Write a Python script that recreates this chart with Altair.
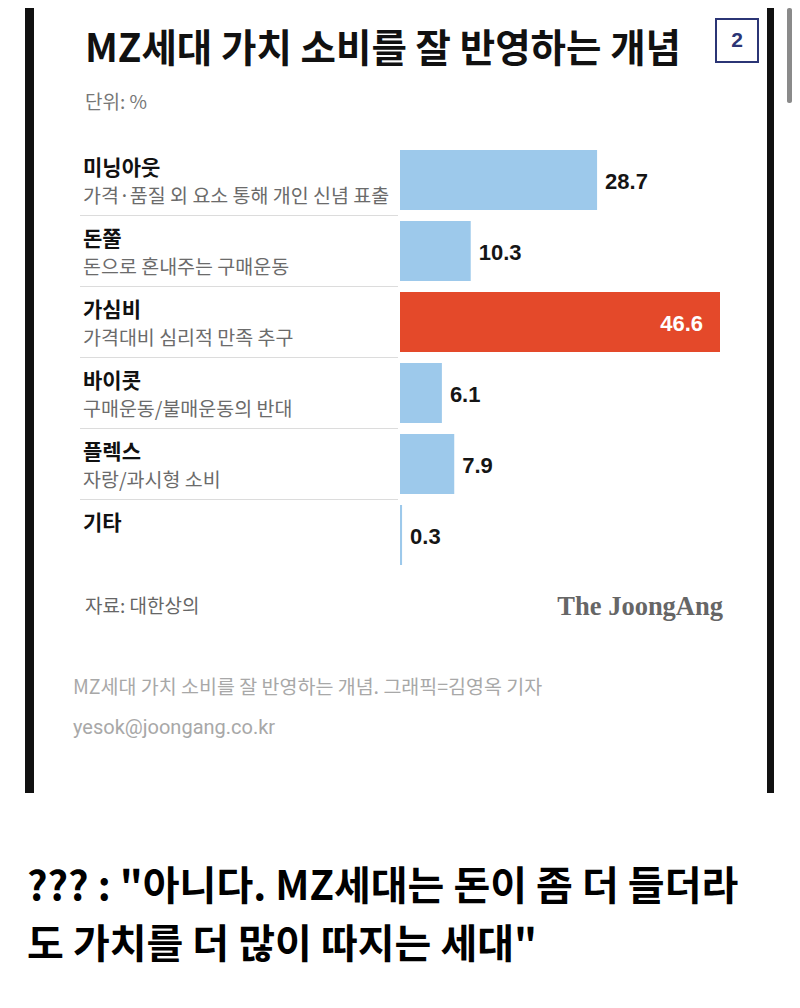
import altair as alt
import pandas as pd

# ---- data ----
names = ["미닝아웃", "돈쭐", "가심비", "바이콧", "플렉스", "기타"]
descs = ["가격·품질 외 요소 통해 개인 신념 표출", "돈으로 혼내주는 구매운동",
         "가격대비 심리적 만족 추구", "구매운동/불매운동의 반대", "자랑/과시형 소비", ""]
values = [28.7, 10.3, 46.6, 6.1, 7.9, 0.3]
kinds = ["base", "base", "hl", "base", "base", "base"]

title_text = "MZ세대 가치 소비를 잘 반영하는 개념"
unit_text = "단위: %"
source_text = "자료: 대한상의"
brand_text = "The JoongAng"
caption_text = "MZ세대 가치 소비를 잘 반영하는 개념. 그래픽=김영옥 기자"
email_text = "yesok@joongang.co.kr"
page_badge = "2"
comment_lines = ["??? : \"아니다. MZ세대는 돈이 좀 더 들더라", "도 가치를 더 많이 따지는 세대\""]

df = pd.DataFrame({"name": names, "desc": descs, "value": values, "kind": kinds})
df["label"] = [f"{v:.1f}" for v in values]
df["sep"] = [n != names[-1] for n in names]

KR = "Noto Sans CJK KR"
NUM = "Liberation Sans"

y_scale = alt.Scale(range=[142, 557], paddingInner=0.155, paddingOuter=0)
x_scale = alt.Scale(domain=[0, 46.6], range=[392, 712])

def Y(**kw):
    return alt.Y("name:N", sort=names, axis=None, scale=y_scale, **kw)

base = alt.Chart(df)

bars = base.mark_bar().encode(
    x=alt.X("value:Q", scale=x_scale, axis=None),
    y=Y(),
    color=alt.Color("kind:N", scale=alt.Scale(domain=["base", "hl"], range=["#9dc9eb", "#e4492a"]), legend=None),
)

seps = base.transform_filter("datum.sep").mark_rule(color="#dcdcdc", strokeWidth=1, yOffset=5.5).encode(
    y=Y(bandPosition=1),
    x=alt.value(72),
    x2=alt.value(390),
)

name_lbl = base.mark_text(align="left", baseline="middle", dy=-11, font=KR, fontSize=21,
                          fontWeight="bold", color="#111111").encode(
    x=alt.value(75), y=Y(), text="name:N")

desc_lbl = base.mark_text(align="left", baseline="middle", dy=17, font=KR, fontSize=19.5,
                          color="#6b6b6b").encode(
    x=alt.value(75), y=Y(), text="desc:N")

val_lbl = base.transform_filter("datum.kind == 'base'").mark_text(
    align="left", baseline="middle", dx=8, dy=2, font=NUM, fontSize=22, fontWeight="bold",
    color="#151515").encode(x=alt.X("value:Q", scale=x_scale, axis=None), y=Y(), text="label:N")

val_hl = base.transform_filter("datum.kind == 'hl'").mark_text(
    align="right", baseline="middle", dx=-17, dy=2, font=NUM, fontSize=22, fontWeight="bold",
    color="#ffffff").encode(x=alt.X("value:Q", scale=x_scale, axis=None), y=Y(), text="label:N")

one = alt.Chart(alt.Data(values=[{"k": 1}]))

def txt(t, x, y, **kw):
    return one.mark_text(text=t, baseline="middle", **kw).encode(x=alt.value(x), y=alt.value(y))

def box(x1, x2, y1, y2, **kw):
    return one.mark_rect(**kw).encode(x=alt.value(x1), x2=alt.value(x2), y=alt.value(y1), y2=alt.value(y2))

left_border = box(17, 26, 0, 785, color="#111111")
right_border = box(759, 766, 0, 785, color="#111111")
scroll = box(779, 784, 0, 95, color="#8a8a8a", cornerRadius=2)
badge = box(708, 750, 11, 54, fill="#ffffff", stroke="#2b3575", strokeWidth=2)
badge_txt = txt(page_badge, 729, 33, align="center", font=NUM, fontSize=21, fontWeight="bold", color="#2b3575")

title = txt(title_text, 77, 42, align="left", font=KR, fontSize=38.5, fontWeight="bold", color="#111111")
unit = txt(unit_text, 77, 95, align="left", font=KR, fontSize=19, color="#777777")
source = txt(source_text, 77, 599, align="left", font=KR, fontSize=19, color="#666666")
brand = txt(brand_text, 715, 599, align="right", font="Liberation Serif", fontSize=26.5, fontWeight="bold", color="#666666")
caption = txt(caption_text, 65, 680, align="left", font=KR, fontSize=19.5, color="#a8a8a8")
email = txt(email_text, 65, 720, align="left", font="Roboto", fontSize=20, color="#a8a8a8")
c1 = txt(comment_lines[0], 19, 880, align="left", font=KR, fontSize=40, fontWeight="bold", color="#000000")
c2 = txt(comment_lines[1], 19, 938, align="left", font=KR, fontSize=40, fontWeight="bold", color="#000000")

chart = alt.layer(
    left_border, right_border, scroll, badge, badge_txt,
    title, unit, seps, bars, name_lbl, desc_lbl, val_lbl, val_hl,
    source, brand, caption, email, c1, c2,
).properties(
    width=784, height=992,
    autosize=alt.AutoSizeParams(type="none"),
    padding=0,
    background="#ffffff",
).configure_view(stroke=None)

chart.save("out.html", embed_options={"renderer": "svg", "actions": False})
